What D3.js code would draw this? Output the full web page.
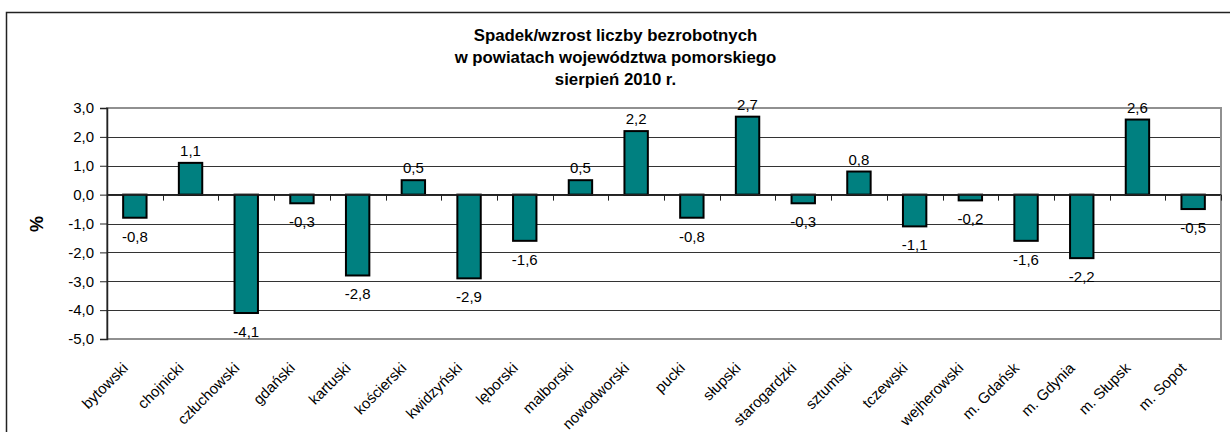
<!DOCTYPE html>
<html><head><meta charset="utf-8">
<script src="https://cdn.jsdelivr.net/npm/d3@7"></script>
<style>
html,body{margin:0;padding:0;background:#fff;}
svg{display:block;font-family:"Liberation Sans",Arial,sans-serif;}
</style></head>
<body><svg id="c" width="1230" height="432"></svg>
<script>
const categories = ["bytowski","chojnicki","człuchowski","gdański","kartuski","kościerski","kwidzyński","lęborski","malborski","nowodworski","pucki","słupski","starogardzki","sztumski","tczewski","wejherowski","m. Gdańsk","m. Gdynia","m. Słupsk","m. Sopot"];
const values = [-0.8,1.1,-4.1,-0.3,-2.8,0.5,-2.9,-1.6,0.5,2.2,-0.8,2.7,-0.3,0.8,-1.1,-0.2,-1.6,-2.2,2.6,-0.5];
const yTicks = [3,2,1,0,-1,-2,-3,-4,-5];
const titleLines = ["Spadek/wzrost liczby bezrobotnych","w powiatach województwa pomorskiego","sierpień 2010 r."];
const yLabel = "%";

const svg = d3.select("#c");
const L = 107, R = 1221, T = 108, B = 339;
const fmt = v => d3.format(".1f")(v).replace(".", ",").replace("−","-");

// outer border
svg.append("rect").attr("x",6.5).attr("y",12.5).attr("width",1300).attr("height",500)
  .attr("fill","none").attr("stroke","#222").attr("stroke-width",1.5);

const x = d3.scaleBand().domain(categories).range([L,R]).paddingInner(0.58).paddingOuter(0.29);
const xb = d3.scaleBand().domain(categories).range([L,R]);
const y = d3.scaleLinear().domain([-5,3]).range([B,T]);

// gridlines
svg.append("g").selectAll("line").data(yTicks.filter(t=>t!==3 && t!==-5)).join("line")
  .attr("x1",L).attr("x2",R).attr("y1",d=>Math.round(y(d))+0.5).attr("y2",d=>Math.round(y(d))+0.5)
  .attr("stroke","#333").attr("stroke-width",1);

// plot border (gray)
svg.append("rect").attr("x",L).attr("y",T).attr("width",R-L).attr("height",B-T)
  .attr("fill","none").attr("stroke","#909090").attr("stroke-width",2);

// y axis
const yAxis = d3.axisLeft(y).tickValues(yTicks).tickFormat(fmt).tickSize(7).tickPadding(6);
const ga = svg.append("g").attr("transform",`translate(${L},0)`).call(yAxis);
ga.select(".domain").attr("stroke","#222").attr("stroke-width",1.5);
ga.selectAll(".tick line").attr("stroke","#222");
ga.selectAll(".tick text").attr("font-size",15).attr("fill","#000").attr("font-family","Liberation Sans, Arial, sans-serif");

// bars
svg.append("g").selectAll("rect").data(values).join("rect")
  .attr("x",(d,i)=>x(categories[i]))
  .attr("width",x.bandwidth())
  .attr("y",d=>y(Math.max(0,d)))
  .attr("height",d=>Math.abs(y(d)-y(0)))
  .attr("fill","#008080").attr("stroke","#000").attr("stroke-width",2);

// zero axis with ticks
const y0 = y(0);
svg.append("line").attr("x1",L).attr("x2",R).attr("y1",y0).attr("y2",y0).attr("stroke","#222").attr("stroke-width",1.5);
svg.append("g").selectAll("line").data(categories.slice(1).concat(["__end"])).join("line")
  .attr("x1",(d,i)=>Math.round(L + (i+1)*xb.bandwidth())+0.5)
  .attr("x2",(d,i)=>Math.round(L + (i+1)*xb.bandwidth())+0.5)
  .attr("y1",y0).attr("y2",y0+6).attr("stroke","#222").attr("stroke-width",1);

// data labels
svg.append("g").selectAll("text").data(values).join("text")
  .attr("x",(d,i)=>x(categories[i])+x.bandwidth()/2)
  .attr("y",d=> d>=0 ? y(d)-7 : y(d)+24)
  .attr("text-anchor","middle").attr("font-size",15).attr("fill","#000")
  .text(d=>fmt(d));

// category labels
svg.append("g").selectAll("text").data(categories).join("text")
  .attr("transform",d=>`translate(${xb(d)+xb.bandwidth()/2-6},${B+30}) rotate(-45)`)
  .attr("text-anchor","end").attr("font-size",15).attr("fill","#000")
  .text(d=>d);

// title
svg.append("g").selectAll("text").data(titleLines).join("text")
  .attr("x",615.5).attr("y",(d,i)=>41+i*22)
  .attr("text-anchor","middle").attr("font-size",16.8).attr("font-weight","bold").attr("fill","#000")
  .text(d=>d);

// y label
svg.append("text").attr("transform","translate(43,224) rotate(-90)")
  .attr("text-anchor","middle").attr("font-size",18).attr("font-weight","bold").text(yLabel);
</script></body></html>
